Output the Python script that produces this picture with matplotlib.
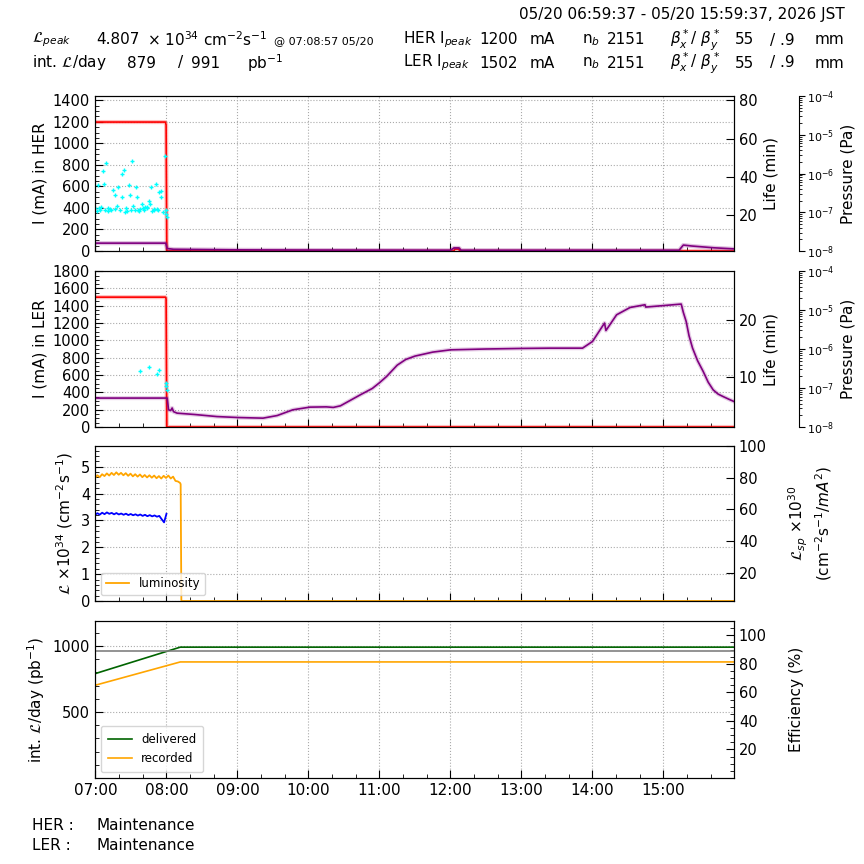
import numpy as np
import matplotlib
matplotlib.use('Agg')
import matplotlib.pyplot as plt
from matplotlib.ticker import MultipleLocator, FuncFormatter, LogLocator, NullLocator

plt.rcParams['font.family'] = ['DejaVu Sans']
plt.rcParams['mathtext.fontset'] = 'dejavusans'

# ---------------- header values ----------------
time_range = "05/20 06:59:37 - 05/20 15:59:37, 2026 JST"
lum_peak = "4.807"
lum_peak_time = "@ 07:08:57 05/20"
int_lum_rec = "879"
int_lum_del = "991"
her_ipeak = "1200"
ler_ipeak = "1502"
nbunch = "2151"
beta_x = "55"
beta_y = "/ .9"
her_status = "Maintenance"
ler_status = "Maintenance"

T_START = 6.9936   # 06:59:37
T_END = 15.9936    # 15:59:37

# ---------------- panel 1 : HER ----------------
her_t = [6.9936, 7.985, 7.995, 8.005, 12.05, 12.06, 12.12, 12.13, 15.9936]
her_i = [1198, 1198, 1170, 0, 0, 18, 18, 0, 0]

her_life_t = [6.9936, 7.99, 8.01, 8.1, 9.0, 10.0, 12.0, 12.05, 12.12, 12.15, 15.22, 15.28, 15.4, 15.7, 15.9936]
her_life = [5.4, 5.4, 2.6, 2.2, 1.9, 1.8, 1.7, 2.9, 2.9, 1.7, 1.7, 4.4, 3.9, 3.0, 2.4]

her_dot_t = [7.00, 7.02, 7.03, 7.05, 7.07, 7.08, 7.10, 7.12, 7.13, 7.15, 7.17, 7.18, 7.20,
             7.22, 7.25, 7.27, 7.28, 7.30, 7.32, 7.35, 7.37, 7.38, 7.40, 7.42, 7.43, 7.45,
             7.47, 7.48, 7.50, 7.52, 7.53, 7.55, 7.57, 7.58, 7.60, 7.62, 7.63, 7.65, 7.67,
             7.68, 7.70, 7.72, 7.73, 7.75, 7.77, 7.78, 7.80, 7.82, 7.83, 7.85, 7.87, 7.88,
             7.90, 7.92, 7.93, 7.95, 7.98, 7.99, 8.00, 8.005]
her_dot_v = [400, 370, 610, 400, 380, 410, 740, 620, 380, 820, 370, 400, 390,
             380, 570, 520, 390, 420, 590, 380, 720, 500, 750, 360, 400, 370,
             610, 520, 380, 840, 420, 380, 590, 500, 380, 370, 390, 440, 400,
             380, 410, 400, 410, 460, 440, 590, 370, 380, 390, 620, 390, 380,
             550, 500, 560, 360, 880, 380, 340, 320]

# ---------------- panel 2 : LER ----------------
ler_t = [6.9936, 7.985, 7.995, 8.005, 15.9936]
ler_i = [1500, 1500, 1480, 0, 0]

ler_life_t = [6.9936, 7.99, 8.01, 8.03, 8.06, 8.08, 8.10, 8.15, 8.4, 8.71, 9.01, 9.36, 9.56,
              9.78, 10.02, 10.25, 10.35, 10.45, 10.73, 10.9, 11.0, 11.1, 11.25, 11.37, 11.5,
              11.75, 12.0, 12.5, 13.0, 13.4, 13.86, 14.0, 14.17, 14.19, 14.34, 14.53, 14.74,
              14.75, 15.25, 15.28, 15.32, 15.36, 15.41, 15.48, 15.56, 15.63, 15.70, 15.77,
              15.84, 15.92, 15.9936]
ler_life = [6.2, 6.2, 6.19, 4.13, 4.0, 4.45, 3.8, 3.54, 3.3, 2.94, 2.77, 2.66, 3.12,
            4.13, 4.60, 4.65, 4.55, 4.83, 6.77, 7.9, 8.9, 10.0, 12.0, 13.0, 13.6,
            14.3, 14.7, 14.85, 14.95, 15.0, 15.0, 16.17, 19.42, 18.11, 20.88, 22.17, 22.65,
            22.24, 22.77, 21.3, 19.70, 17.2, 15.0, 12.8, 10.88, 9.0, 7.65, 6.9,
            6.47, 6.0, 5.59]

ler_dot_t = [7.63, 7.75, 7.86, 7.90, 7.99, 8.0, 8.01]
ler_dot_v = [646, 689, 616, 654, 504, 470, 427]

# ---------------- panel 3 : luminosity ----------------
lum_t = list(np.linspace(6.9936, 8.1603, 36)) + [8.19, 8.20, 8.21, 15.9936]
lum_v = [4.58, 4.68, 4.61, 4.72, 4.65, 4.75, 4.67, 4.77, 4.69, 4.79, 4.70, 4.77,
         4.68, 4.76, 4.66, 4.74, 4.64, 4.72, 4.63, 4.71, 4.61, 4.69, 4.60, 4.68,
         4.59, 4.67, 4.57, 4.65, 4.56, 4.66, 4.58, 4.67, 4.56, 4.63, 4.47, 4.45,
         4.40, 4.35, 0.0, 0.0]

lsp_t = list(np.linspace(6.9936, 8.0, 31))
lsp_v = [56.5, 57.6, 56.7, 57.9, 57.0, 58.1, 57.2, 57.8, 56.9, 57.7, 56.8, 57.4,
         56.6, 57.3, 56.4, 57.1, 56.3, 56.9, 56.1, 56.8, 55.9, 56.6, 55.7, 56.4,
         55.6, 56.2, 55.4, 55.9, 53.8, 51.8, 57.2]

# ---------------- panel 4 : integrated luminosity ----------------
int_t = [6.9936, 8.195, 15.9936]
delivered = [790, 991, 991]
recorded = [702, 879, 879]
eff_t = [6.9936, 15.9936]
efficiency = [88.7, 88.7]

# ---------------- figure ----------------
fig = plt.figure(figsize=(8.64, 8.64), dpi=100)
L, W = 95 / 864, 639 / 864
rects = [(L, 1 - 251 / 864, W, 155 / 864),
         (L, 1 - 427 / 864, W, 156 / 864),
         (L, 1 - 601 / 864, W, 155 / 864),
         (L, 1 - 778 / 864, W, 157 / 864)]
axes = [fig.add_axes(r) for r in rects]

TICK_FS = 10.5
LABEL_FS = 11
GRID_C = '#aaaaaa'

def hhmm(x, pos):
    h = int(round(x * 60)) // 60
    m = int(round(x * 60)) % 60
    return f"{h:02d}:{m:02d}"

for i, ax in enumerate(axes):
    ax.set_xlim(T_START, T_END)
    ax.xaxis.set_major_locator(MultipleLocator(1.0))
    ax.xaxis.set_minor_locator(MultipleLocator(1 / 3))
    ax.xaxis.set_major_formatter(FuncFormatter(hhmm))
    ax.tick_params(which='both', direction='in', top=False, right=False, labelsize=TICK_FS)
    ax.tick_params(which='major', length=6)
    ax.tick_params(which='minor', length=3)
    ax.grid(True, which='major', linestyle=':', color=GRID_C, linewidth=0.8)
    ax.set_axisbelow(True)
    if i < 3:
        ax.tick_params(labelbottom=False)
    else:
        ax.tick_params(axis='x', labelsize=11)

def life_twin(ax, ylim, major):
    a = ax.twinx()
    a.set_ylim(*ylim)
    a.yaxis.set_major_locator(MultipleLocator(major))
    a.yaxis.set_minor_locator(NullLocator())
    a.tick_params(direction='in', length=6, labelsize=TICK_FS)
    a.set_ylabel("Life (min)", fontsize=LABEL_FS)
    return a

def pressure_twin(ax):
    p = ax.twinx()
    p.set_yscale('log')
    p.set_ylim(1e-8, 1e-4)
    p.spines['right'].set_position(('axes', 1.1017))
    for s in ['top', 'bottom', 'left']:
        p.spines[s].set_visible(False)
    p.spines['right'].set_linewidth(0.8)
    p.yaxis.set_major_locator(LogLocator(base=10, numticks=10))
    p.yaxis.set_minor_locator(LogLocator(base=10, subs=np.arange(2, 10), numticks=10))
    p.tick_params(which='both', direction='out', labelsize=8, pad=2)
    p.tick_params(which='major', length=4)
    p.tick_params(which='minor', length=2)
    p.set_ylabel("Pressure (Pa)", fontsize=LABEL_FS)
    return p

# panel 1
ax = axes[0]
ax.plot(her_t, her_i, color='red', lw=3, alpha=0.25)
ax.plot(her_t, her_i, color='red', lw=1.2)
ax.plot(her_dot_t, her_dot_v, ls='none', marker='+', ms=2.5, color='cyan', mew=1)
ax.set_ylim(0, 1440)
ax.yaxis.set_major_locator(MultipleLocator(200))
ax.yaxis.set_minor_locator(MultipleLocator(50))
ax.set_ylabel("I (mA) in HER", fontsize=LABEL_FS)
a1 = life_twin(ax, (1.3, 82.2), 20)
a1.plot(her_life_t, her_life, color='purple', lw=3, alpha=0.25)
a1.plot(her_life_t, her_life, color='purple', lw=1.2)
pressure_twin(ax)

# panel 2
ax = axes[1]
ax.plot(ler_t, ler_i, color='red', lw=3, alpha=0.25)
ax.plot(ler_t, ler_i, color='red', lw=1.2)
ax.plot(ler_dot_t, ler_dot_v, ls='none', marker='+', ms=2.5, color='cyan', mew=1)
ax.set_ylim(0, 1802)
ax.yaxis.set_major_locator(MultipleLocator(200))
ax.yaxis.set_minor_locator(MultipleLocator(50))
ax.set_ylabel("I (mA) in LER", fontsize=LABEL_FS)
a2 = life_twin(ax, (1.1, 28.6), 10)
a2.plot(ler_life_t, ler_life, color='purple', lw=3, alpha=0.2)
a2.plot(ler_life_t, ler_life, color='purple', lw=1.2)
pressure_twin(ax)

# panel 3
ax = axes[2]
ax.plot(lum_t, lum_v, color='orange', lw=1.3, label='luminosity')
ax.set_ylim(0, 5.77)
ax.yaxis.set_major_locator(MultipleLocator(1))
ax.yaxis.set_minor_locator(MultipleLocator(0.2))
ax.set_ylabel(r"$\mathcal{L}$ ×10$^{34}$ (cm$^{-2}$s$^{-1}$)", fontsize=LABEL_FS)
ax.legend(loc='lower left', fontsize=8.5)
a3 = ax.twinx()
a3.plot(lsp_t, lsp_v, color='blue', lw=1.3)
a3.set_ylim(2.2, 100)
a3.yaxis.set_major_locator(MultipleLocator(20))
a3.yaxis.set_minor_locator(NullLocator())
a3.tick_params(direction='in', length=6, labelsize=TICK_FS)
a3.set_ylabel(r"$\mathcal{L}_{sp}$ ×10$^{30}$" + "\n" + r"(cm$^{-2}$s$^{-1}$/$mA^{2}$)",
              fontsize=LABEL_FS, labelpad=14)

# panel 4
ax = axes[3]
ax.plot(int_t, delivered, color='darkgreen', lw=1.2, label='delivered')
ax.plot(int_t, recorded, color='orange', lw=1.2, label='recorded')
ax.set_ylim(0, 1189)
ax.set_yticks([500, 1000])
ax.yaxis.set_minor_locator(MultipleLocator(100))
ax.set_ylabel(r"int. $\mathcal{L}$/day (pb$^{-1}$)", fontsize=LABEL_FS)
ax.legend(loc='lower left', fontsize=8.5, borderpad=0.6)
a4 = ax.twinx()
a4.plot(eff_t, efficiency, color='gray', lw=1.2)
a4.set_ylim(0, 110)
a4.set_yticks([20, 40, 60, 80, 100])
a4.yaxis.set_minor_locator(MultipleLocator(5))
a4.tick_params(which='both', direction='in', labelsize=TICK_FS)
a4.tick_params(which='major', length=6)
a4.tick_params(which='minor', length=3)
a4.set_ylabel("Efficiency (%)", fontsize=LABEL_FS, labelpad=16)

# ---------------- header text ----------------
def px(x, y):
    return x / 864, 1 - y / 864

fs = 11
fig.text(*px(845, 14), time_range, ha='right', va='center', fontsize=fs)
for row, yy in ((0, 40), (1, 63)):
    if row == 0:
        fig.text(*px(32, yy), r"$\mathcal{L}_{peak}$", va='center', fontsize=fs)
        fig.text(*px(96, yy), lum_peak, va='center', fontsize=fs)
        fig.text(*px(147, yy), r"× 10$^{34}$ cm$^{-2}$s$^{-1}$", va='center', fontsize=fs)
        fig.text(*px(274, yy + 1), lum_peak_time, va='center', fontsize=8)
        fig.text(*px(403, yy), r"HER I$_{peak}$", va='center', fontsize=fs)
        fig.text(*px(479, yy), her_ipeak, va='center', fontsize=fs)
    else:
        fig.text(*px(32, yy), r"int. $\mathcal{L}$/day", va='center', fontsize=fs)
        fig.text(*px(127, yy), int_lum_rec, va='center', fontsize=fs)
        fig.text(*px(178, yy), "/", va='center', fontsize=fs)
        fig.text(*px(191, yy), int_lum_del, va='center', fontsize=fs)
        fig.text(*px(247, yy), r"pb$^{-1}$", va='center', fontsize=fs)
        fig.text(*px(403, yy), r"LER I$_{peak}$", va='center', fontsize=fs)
        fig.text(*px(479, yy), ler_ipeak, va='center', fontsize=fs)
    fig.text(*px(530, yy), "mA", va='center', fontsize=fs)
    fig.text(*px(582, yy), r"n$_b$", va='center', fontsize=fs)
    fig.text(*px(607, yy), nbunch, va='center', fontsize=fs)
    fig.text(*px(670, yy), r"$\beta_x^*$/ $\beta_y^*$", va='center', fontsize=fs)
    fig.text(*px(735, yy), beta_x, va='center', fontsize=fs)
    fig.text(*px(770, yy), beta_y, va='center', fontsize=fs)
    fig.text(*px(815, yy), "mm", va='center', fontsize=fs)

fig.text(*px(32, 826), "HER :", va='center', fontsize=fs)
fig.text(*px(96, 826), her_status, va='center', fontsize=fs)
fig.text(*px(32, 846), "LER :", va='center', fontsize=fs)
fig.text(*px(96, 846), ler_status, va='center', fontsize=fs)

fig.savefig("out.png", dpi=100)
